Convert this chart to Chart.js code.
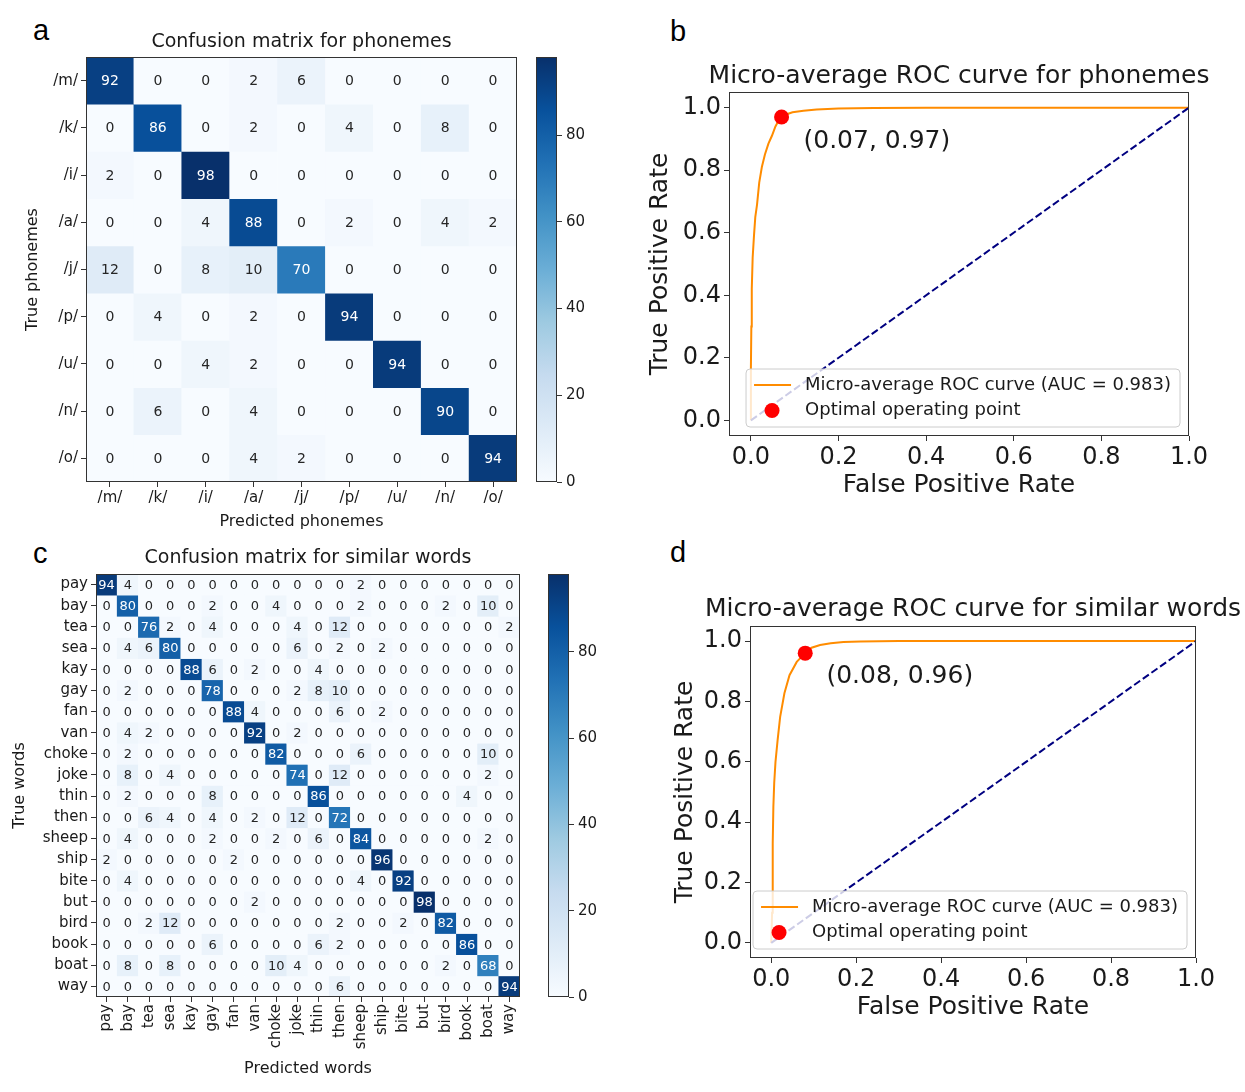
<!DOCTYPE html>
<html><head><meta charset="utf-8">
<script src="https://cdn.jsdelivr.net/npm/chart.js@4.4.1/dist/chart.umd.min.js"></script>
<style>
html,body{margin:0;padding:0;background:#fff}
body{width:1245px;height:1092px;overflow:hidden;position:relative}
canvas{position:absolute}
.lbl{position:absolute;font-family:"Liberation Sans",Arial,sans-serif;font-size:29px;color:#000;line-height:1}
</style></head><body>
<div class="lbl" style="left:33px;top:16px">a</div>
<div class="lbl" style="left:670px;top:17px">b</div>
<div class="lbl" style="left:33px;top:539px">c</div>
<div class="lbl" style="left:670px;top:538px">d</div>
<canvas id="cA"></canvas>
<canvas id="cAbar"></canvas>
<canvas id="cB"></canvas>
<canvas id="cC"></canvas>
<canvas id="cCbar"></canvas>
<canvas id="cD"></canvas>
<script>
// ---------------- DATA ----------------
const phonemes = ['/m/','/k/','/i/','/a/','/j/','/p/','/u/','/n/','/o/'];
const phonemeMatrix = [
  [92,0,0,2,6,0,0,0,0],
  [0,86,0,2,0,4,0,8,0],
  [2,0,98,0,0,0,0,0,0],
  [0,0,4,88,0,2,0,4,2],
  [12,0,8,10,70,0,0,0,0],
  [0,4,0,2,0,94,0,0,0],
  [0,0,4,2,0,0,94,0,0],
  [0,6,0,4,0,0,0,90,0],
  [0,0,0,4,2,0,0,0,94]
];
const words = ['pay','bay','tea','sea','kay','gay','fan','van','choke','joke','thin','then','sheep','ship','bite','but','bird','book','boat','way'];
const wordMatrix = [
  [94,4,0,0,0,0,0,0,0,0,0,0,2,0,0,0,0,0,0,0],
  [0,80,0,0,0,2,0,0,4,0,0,0,2,0,0,0,2,0,10,0],
  [0,0,76,2,0,4,0,0,0,4,0,12,0,0,0,0,0,0,0,2],
  [0,4,6,80,0,0,0,0,0,6,0,2,0,2,0,0,0,0,0,0],
  [0,0,0,0,88,6,0,2,0,0,4,0,0,0,0,0,0,0,0,0],
  [0,2,0,0,0,78,0,0,0,2,8,10,0,0,0,0,0,0,0,0],
  [0,0,0,0,0,0,88,4,0,0,0,6,0,2,0,0,0,0,0,0],
  [0,4,2,0,0,0,0,92,0,2,0,0,0,0,0,0,0,0,0,0],
  [0,2,0,0,0,0,0,0,82,0,0,0,6,0,0,0,0,0,10,0],
  [0,8,0,4,0,0,0,0,0,74,0,12,0,0,0,0,0,0,2,0],
  [0,2,0,0,0,8,0,0,0,0,86,0,0,0,0,0,0,4,0,0],
  [0,0,6,4,0,4,0,2,0,12,0,72,0,0,0,0,0,0,0,0],
  [0,4,0,0,0,2,0,0,2,0,6,0,84,0,0,0,0,0,2,0],
  [2,0,0,0,0,0,2,0,0,0,0,0,0,96,0,0,0,0,0,0],
  [0,4,0,0,0,0,0,0,0,0,0,0,4,0,92,0,0,0,0,0],
  [0,0,0,0,0,0,0,2,0,0,0,0,0,0,0,98,0,0,0,0],
  [0,0,2,12,0,0,0,0,0,0,0,2,0,0,2,0,82,0,0,0],
  [0,0,0,0,0,6,0,0,0,0,6,2,0,0,0,0,0,86,0,0],
  [0,8,0,8,0,0,0,0,10,4,0,0,0,0,0,0,2,0,68,0],
  [0,0,0,0,0,0,0,0,0,0,0,6,0,0,0,0,0,0,0,94]
];
const colorMin = 0;
const colorMax = 98;
const colorbarTicks = [0,20,40,60,80];

const rocTicks = [0.0,0.2,0.4,0.6,0.8,1.0];
const diagX = [0,1];
const diagY = [0,1];

const rocPhonemeFPR = [0,0,0.001,0.002,0.004,0.007,0.010,0.014,0.019,0.025,0.032,0.040,0.048,0.056,0.063,0.070,0.080,0.095,0.12,0.15,0.20,0.28,0.40,0.60,0.80,1.0];
const rocPhonemeTPR = [0,0.17,0.30,0.42,0.52,0.59,0.65,0.69,0.76,0.81,0.85,0.885,0.91,0.94,0.958,0.97,0.978,0.985,0.99,0.994,0.997,0.999,1.0,1.0,1.0,1.0];
const optPhoneme = [0.07, 0.97];
const aucPhoneme = 0.983;

const rocWordFPR = [0,0.002,0.003,0.004,0.005,0.007,0.010,0.015,0.021,0.031,0.043,0.060,0.080,0.095,0.115,0.14,0.17,0.21,0.30,0.45,0.70,1.0];
const rocWordTPR = [0,0.10,0.20,0.33,0.45,0.53,0.60,0.672,0.749,0.827,0.887,0.931,0.96,0.978,0.987,0.993,0.997,0.999,1.0,1.0,1.0,1.0];
const optWord = [0.08, 0.96];
const aucWord = 0.983;

// ---------------- STYLE ----------------
Chart.defaults.font.family = '"DejaVu Sans", sans-serif';
Chart.defaults.color = '#1a1a1a';
const TXT = '#1a1a1a';
const AXC = '#333333';
const BLUES = ['#f7fbff','#deebf7','#c6dbef','#9ecae1','#6baed6','#4292c6','#2171b5','#08519c','#08306b'];
const BLUES_RGB = BLUES.map(h => [1,3,5].map(i => parseInt(h.substr(i,2),16)));
function blues(t){
  t = Math.max(0, Math.min(1, t));
  const p = t*(BLUES.length-1);
  const i = Math.min(Math.floor(p), BLUES.length-2);
  const f = p - i;
  const a = BLUES_RGB[i], b = BLUES_RGB[i+1];
  return 'rgb(' + a.map((v,k)=>Math.round(v+(b[k]-v)*f)).join(',') + ')';
}
function place(id, left, top, width, height){
  const c = document.getElementById(id);
  c.width = width; c.height = height;
  c.style.left = left+'px'; c.style.top = top+'px';
  c.style.width = width+'px'; c.style.height = height+'px';
  return c;
}

const framePlugin = {
  id:'frame',
  afterDraw(chart){
    const {ctx, chartArea:a} = chart;
    ctx.save();
    ctx.strokeStyle = AXC; ctx.lineWidth = 1;
    ctx.strokeRect(Math.round(a.left)+0.5, Math.round(a.top)+0.5, Math.round(a.right)-Math.round(a.left)-1, Math.round(a.bottom)-Math.round(a.top)-1);
    ctx.restore();
  }
};

const cellTextPlugin = {
  id:'cellText',
  afterDatasetsDraw(chart, args, o){
    const ctx = chart.ctx;
    ctx.save();
    ctx.font = o.size + 'px "DejaVu Sans"';
    ctx.textAlign = 'center'; ctx.textBaseline = 'middle';
    chart.data.datasets.forEach((ds, r) => {
      chart.getDatasetMeta(r).data.forEach((bar, c) => {
        const v = o.matrix[r][c];
        ctx.fillStyle = v > (colorMin+colorMax)/2 ? '#ffffff' : '#262626';
        ctx.fillText(String(v), bar.x, (bar.y + bar.base)/2 + 1);
      });
    });
    ctx.restore();
  }
};

function makeHeatmap(cfg){
  const A = cfg.area;
  const W = Math.round(A.r + 6 - cfg.left);
  const H = Math.round(cfg.bottom - cfg.top);
  const canvas = place(cfg.id, cfg.left, cfg.top, W, H);
  const padRight = W - (A.r - cfg.left);
  const yW = A.l - cfg.left;
  const xH = cfg.top + H - A.b;
  const datasets = cfg.rows.map((name, r) => ({
    label: name,
    data: cfg.cols.map(() => 1),
    backgroundColor: cfg.matrix[r].map(v => blues((v-colorMin)/(colorMax-colorMin))),
    borderWidth: 0,
    barPercentage: 1,
    categoryPercentage: 1
  }));
  new Chart(canvas, {
    type:'bar',
    data:{labels: cfg.cols, datasets},
    options:{
      responsive:false, animation:false, devicePixelRatio:1, events:[],
      layout:{padding:{left:0, top:0, right:padRight, bottom:0}},
      plugins:{
        legend:{display:false}, tooltip:{enabled:false},
        title:{display:true, text:cfg.title, fullSize:false, color:TXT, font:{size:19, weight:'normal', lineHeight:1.2}, padding:{top:cfg.titlePad[0], bottom:cfg.titlePad[1]}},
        cellText:{matrix: cfg.matrix, size: cfg.cellFont}
      },
      scales:{
        x:{
          stacked:true, offset:true,
          grid:{offset:false, drawOnChartArea:false, tickLength:5, color:AXC},
          border:{display:false},
          ticks:{font:{size:15}, color:TXT, padding:2, maxRotation:cfg.rot, minRotation:cfg.rot, autoSkip:false},
          title:{display:true, text:cfg.xTitle, color:TXT, font:{size:16, lineHeight:1.2}, padding:{top:0, bottom:cfg.xTitlePad}},
          afterFit(s){ s.height = xH; s.paddingLeft = 0; s.paddingRight = 0; }
        },
        y:{
          stacked:true, reverse:true, min:0, max:cfg.rows.length,
          grid:{drawOnChartArea:false, tickLength:5, color:AXC},
          border:{display:false},
          afterBuildTicks(s){ s.ticks = cfg.rows.map((_, i) => ({value: i + 0.5})); },
          ticks:{font:{size:15}, color:TXT, padding:3, autoSkip:false, callback:(v) => cfg.rows[Math.floor(v)]},
          title:{display:true, text:cfg.yTitle, color:TXT, font:{size:16, lineHeight:1.2}, padding:{top:cfg.yTitlePad, bottom:0}},
          afterFit(s){ s.width = yW; s.paddingTop = 0; s.paddingBottom = 0; }
        }
      }
    },
    plugins:[cellTextPlugin, framePlugin]
  });
}

function makeColorbar(id, A){
  const padV = 12, axisW = 45;
  const canvas = place(id, A.l, A.t - padV, Math.round(A.r - A.l + axisW), Math.round(A.b - A.t + 2*padV));
  new Chart(canvas, {
    type:'bar',
    data:{labels:[''], datasets:[{
      data:[[colorMin, colorMax]],
      backgroundColor:(c) => {
        const ca = c.chart.chartArea;
        if (!ca) return blues(0.5);
        const g = c.chart.ctx.createLinearGradient(0, ca.bottom, 0, ca.top);
        BLUES.forEach((col, i) => g.addColorStop(i/(BLUES.length-1), col));
        return g;
      },
      borderWidth:0, barPercentage:1, categoryPercentage:1
    }]},
    options:{
      responsive:false, animation:false, devicePixelRatio:1, events:[],
      layout:{padding:{top:padV, bottom:padV, left:0, right:0}},
      plugins:{legend:{display:false}, tooltip:{enabled:false}},
      scales:{
        x:{display:false},
        y:{
          position:'right', min:colorMin, max:colorMax,
          afterBuildTicks(s){ s.ticks = colorbarTicks.map(v => ({value:v})); },
          ticks:{font:{size:15}, color:TXT, padding:4},
          grid:{drawOnChartArea:false, tickLength:5, color:AXC},
          border:{display:false},
          afterFit(s){ s.width = axisW; s.paddingTop = 0; s.paddingBottom = 0; }
        }
      }
    },
    plugins:[framePlugin]
  });
}

const rocLegendPlugin = {
  id:'rocLegend',
  afterDatasetsDraw(chart, args, o){
    const {ctx, chartArea:ca} = chart;
    ctx.save();
    ctx.font = o.size + 'px "DejaVu Sans"';
    const tw = Math.max(...o.labels.map(t => ctx.measureText(t).width));
    const w = tw + 59 + 9, h = 58;
    const left = ca.right - 9 - w, top = ca.bottom - 9 - h;
    const r = 4;
    ctx.beginPath();
    ctx.moveTo(left + r, top);
    ctx.arcTo(left + w, top, left + w, top + h, r);
    ctx.arcTo(left + w, top + h, left, top + h, r);
    ctx.arcTo(left, top + h, left, top, r);
    ctx.arcTo(left, top, left + w, top, r);
    ctx.closePath();
    ctx.fillStyle = 'rgba(255,255,255,0.8)';
    ctx.fill();
    ctx.strokeStyle = '#cccccc'; ctx.lineWidth = 1;
    ctx.stroke();
    const y1 = top + 16, y2 = top + 41.5;
    ctx.beginPath();
    ctx.moveTo(left + 8, y1); ctx.lineTo(left + 45, y1);
    ctx.strokeStyle = o.lineColor; ctx.lineWidth = 2; ctx.stroke();
    ctx.beginPath();
    ctx.arc(left + 26, y2, 7.5, 0, Math.PI*2);
    ctx.fillStyle = o.dotColor; ctx.fill();
    ctx.fillStyle = TXT; ctx.textAlign = 'left'; ctx.textBaseline = 'middle';
    ctx.fillText(o.labels[0], left + 59, y1);
    ctx.fillText(o.labels[1], left + 59, y2);
    ctx.restore();
  }
};

const annotPlugin = {
  id:'optAnnot',
  afterDatasetsDraw(chart, args, o){
    const {ctx, scales} = chart;
    ctx.save();
    ctx.font = o.size + 'px "DejaVu Sans"';
    ctx.fillStyle = TXT; ctx.textAlign = 'left'; ctx.textBaseline = 'alphabetic';
    ctx.fillText(o.text, scales.x.getPixelForValue(o.x), scales.y.getPixelForValue(o.y));
    ctx.restore();
  }
};

function makeRoc(cfg){
  const A = cfg.area;
  const center = (A.l + A.r)/2;
  const right = 2*center - cfg.left;
  const W = Math.round(right - cfg.left);
  const H = Math.round(cfg.bottom - cfg.top);
  const canvas = place(cfg.id, cfg.left, cfg.top, W, H);
  const yW = A.l - cfg.left;
  const spacerW = W - (A.r - cfg.left);
  const xH = cfg.top + H - A.b;
  const [ox, oy] = cfg.opt;
  new Chart(canvas, {
    type:'scatter',
    data:{datasets:[
      {label:'Optimal operating point', data:[{x:ox, y:oy}], pointRadius:7.5, pointBackgroundColor:'#ff0000', backgroundColor:'#ff0000', borderWidth:0, pointBorderWidth:0, order:0},
      {label:'diag', data:diagX.map((x,i)=>({x, y:diagY[i]})), showLine:true, borderColor:'#000080', borderWidth:2, borderDash:[7.4,3.2], pointRadius:0, order:1},
      {label:'roc', data:cfg.fpr.map((x,i)=>({x, y:cfg.tpr[i]})), showLine:true, borderColor:'#ff8c00', borderWidth:2, pointRadius:0, tension:0, order:2}
    ]},
    options:{
      responsive:false, animation:false, devicePixelRatio:1, events:[],
      layout:{padding:0},
      plugins:{
        legend:{display:false}, tooltip:{enabled:false},
        title:{display:true, text:cfg.title, fullSize:true, color:TXT, font:{size:25, weight:'normal', lineHeight:1.2}, padding:{top:cfg.titlePad[0], bottom:cfg.titlePad[1]}},
        rocLegend:{size:18, labels:['Micro-average ROC curve (AUC = ' + cfg.auc.toFixed(3) + ')', 'Optimal operating point'], lineColor:'#ff8c00', dotColor:'#ff0000'},
        optAnnot:{size:25, x:ox + 0.05, y:oy - 0.1, text:'(' + ox.toFixed(2) + ', ' + oy.toFixed(2) + ')'}
      },
      scales:{
        x:{
          type:'linear', min:-0.05, max:1.0,
          afterBuildTicks(s){ s.ticks = rocTicks.map(v => ({value:v})); },
          ticks:{font:{size:24}, color:TXT, padding:2, callback:(v)=>v.toFixed(1)},
          grid:{drawOnChartArea:false, tickLength:5, color:AXC},
          border:{display:false},
          title:{display:true, text:'False Positive Rate', color:TXT, font:{size:25, lineHeight:1.2}, padding:{top:0, bottom:cfg.xTitlePad}},
          afterFit(s){ s.height = xH; s.paddingLeft = 0; s.paddingRight = 0; }
        },
        y:{
          type:'linear', min:-0.05, max:1.05,
          afterBuildTicks(s){ s.ticks = rocTicks.map(v => ({value:v})); },
          ticks:{font:{size:24}, color:TXT, padding:3, callback:(v)=>v.toFixed(1)},
          grid:{drawOnChartArea:false, tickLength:5, color:AXC},
          border:{display:false},
          title:{display:true, text:'True Positive Rate', color:TXT, font:{size:25, lineHeight:1.2}, padding:{top:cfg.yTitlePad, bottom:0}},
          afterFit(s){ s.width = yW; s.paddingTop = 0; s.paddingBottom = 0; }
        },
        spacer:{
          type:'linear', position:'right', display:true,
          ticks:{display:false}, grid:{display:false}, border:{display:false},
          afterFit(s){ s.width = spacerW; s.paddingTop = 0; s.paddingBottom = 0; }
        }
      }
    },
    plugins:[rocLegendPlugin, annotPlugin, framePlugin]
  });
}

// ---------------- BUILD ----------------
makeHeatmap({id:'cA', left:14, top:14, bottom:540, area:{l:86, t:57, r:517, b:482},
  rows:phonemes, cols:phonemes, matrix:phonemeMatrix, title:'Confusion matrix for phonemes',
  xTitle:'Predicted phonemes', yTitle:'True phonemes', titlePad:[16.6,3.6], yTitlePad:9.4, xTitlePad:8.4, cellFont:14, rot:0});
makeColorbar('cAbar', {l:536, t:57, r:557, b:482});

makeHeatmap({id:'cC', left:6, top:530, bottom:1087, area:{l:96, t:574, r:520, b:997},
  rows:words, cols:words, matrix:wordMatrix, title:'Confusion matrix for similar words',
  xTitle:'Predicted words', yTitle:'True words', titlePad:[16.6,4.6], yTitlePad:4.4, xTitlePad:8.4, cellFont:13, rot:90});
makeColorbar('cCbar', {l:548, t:574, r:569, b:997});

makeRoc({id:'cB', left:630, top:40, bottom:512, area:{l:729, t:92, r:1189, b:436},
  fpr:rocPhonemeFPR, tpr:rocPhonemeTPR, opt:optPhoneme, auc:aucPhoneme,
  title:'Micro-average ROC curve for phonemes', titlePad:[21,1], yTitlePad:15, xTitlePad:12});
makeRoc({id:'cD', left:650, top:575, bottom:1034, area:{l:750, t:626, r:1196, b:958},
  fpr:rocWordFPR, tpr:rocWordTPR, opt:optWord, auc:aucWord,
  title:'Micro-average ROC curve for similar words', titlePad:[19,2], yTitlePad:20, xTitlePad:12});
</script>
</body></html>
